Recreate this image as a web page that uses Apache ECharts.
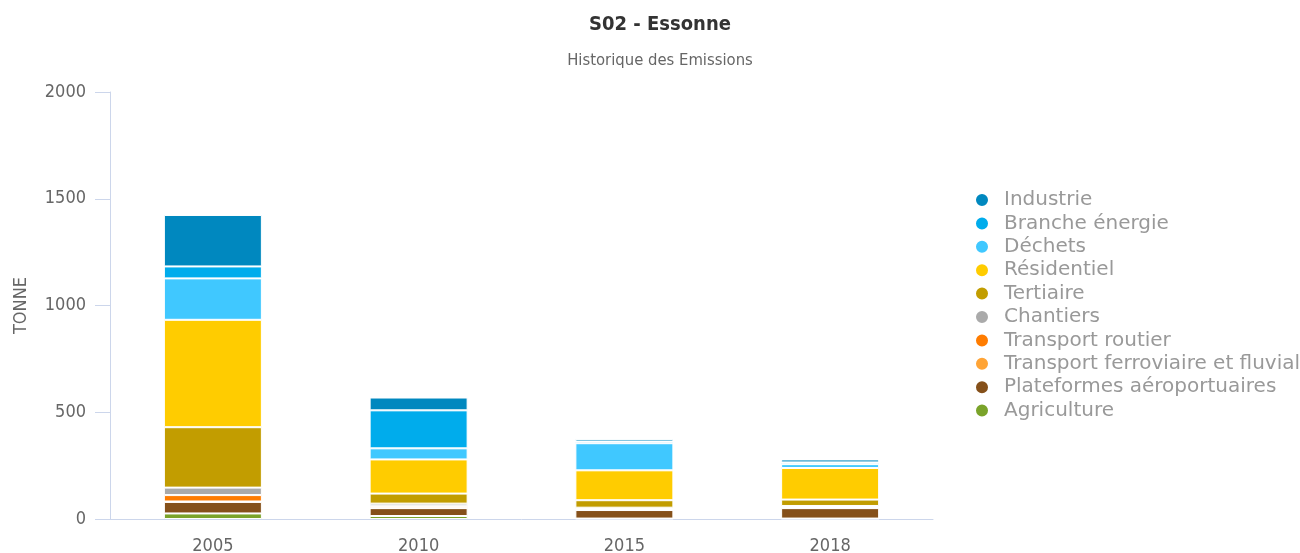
<!DOCTYPE html>
<html>
<head>
<meta charset="utf-8">
<title>SO2 - Essonne</title>
<script src="https://cdn.jsdelivr.net/npm/echarts@6/dist/echarts.min.js"></script>
<style>
  html, body { margin: 0; padding: 0; background: #fff; }
  #chart { width: 1300px; height: 553px; }
</style>
</head>
<body>
<div id="chart"></div>
<script>
// Emissions by sector, in tonnes
const categories = ['2005', '2010', '2015', '2018'];
const industrie = [241, 60, 12, 14];
const brancheEnergie = [56, 178, 8, 8];
const dechets = [194, 52, 127, 18];
const residentiel = [503, 160, 140, 148];
const tertiaire = [283, 47, 35, 30];
const chantiers = [35, 12, 6, 5];
const transportRoutier = [30, 8, 4, 4];
const transportFerroviaire = [2, 1, 1, 1];
const plateformes = [54, 37, 40, 49];
const agriculture = [26, 14, 2, 2];

const yTicks = [0, 500, 1000, 1500, 2000];

const narrow = "'DejaVu Sans Condensed', 'Liberation Sans Narrow', sans-serif";

// stacked bottom to top
const sectors = [
  { name: 'Agriculture', data: agriculture, color: '#7aa32a' },
  { name: 'Plateformes aéroportuaires', data: plateformes, color: '#85501a' },
  { name: 'Transport ferroviaire et fluvial', data: transportFerroviaire, color: '#ffa436' },
  { name: 'Transport routier', data: transportRoutier, color: '#ff7c00' },
  { name: 'Chantiers', data: chantiers, color: '#aaaaaa' },
  { name: 'Tertiaire', data: tertiaire, color: '#c29d00' },
  { name: 'Résidentiel', data: residentiel, color: '#ffcc00' },
  { name: 'Déchets', data: dechets, color: '#40c8ff' },
  { name: 'Branche énergie', data: brancheEnergie, color: '#00acec' },
  { name: 'Industrie', data: industrie, color: '#0088bf' }
];

const chart = echarts.init(document.getElementById('chart'), null, { renderer: 'canvas' });

chart.setOption({
  animation: false,
  backgroundColor: '#ffffff',
  title: {
    text: 'S02 - Essonne',
    subtext: 'Historique des Emissions',
    left: 655,
    textAlign: 'center',
    top: 10,
    itemGap: 17,
    textStyle: { fontFamily: narrow, fontSize: 20, fontWeight: 'bold', color: '#333333' },
    subtextStyle: { fontFamily: narrow, fontSize: 16.5, color: '#666666' }
  },
  legend: {
    orient: 'vertical',
    left: 974,
    top: 190,
    padding: 0,
    icon: 'circle',
    itemWidth: 14,
    itemHeight: 14,
    itemGap: 3.4,
    selectedMode: false,
    data: sectors.map(s => s.name).reverse(),
    textStyle: {
      fontFamily: "'DejaVu Sans', Verdana, sans-serif",
      fontSize: 20,
      lineHeight: 20,
      color: '#999999',
      padding: [0, 0, 0, 10]
    }
  },
  grid: {
    left: 110, right: 367, top: 92, bottom: 34,
    containLabel: false,
    outerBoundsMode: 'none'
  },
  xAxis: {
    type: 'category',
    data: categories,
    axisLine: { show: true, lineStyle: { color: '#ccd6eb', width: 1 } },
    axisTick: { show: false },
    axisLabel: { fontFamily: narrow, fontSize: 18, color: '#666666', margin: 18 }
  },
  yAxis: {
    type: 'value',
    min: yTicks[0],
    max: yTicks[yTicks.length - 1],
    interval: 500,
    name: 'TONNE',
    nameLocation: 'middle',
    nameGap: 80,
    nameTextStyle: { fontFamily: narrow, fontSize: 18, color: '#666666' },
    axisLine: { show: true, lineStyle: { color: '#ccd6eb', width: 1 } },
    axisTick: { show: true, length: 15, lineStyle: { color: '#ccd6eb' } },
    splitLine: { show: false },
    axisLabel: {
      fontFamily: narrow, fontSize: 18, color: '#666666', margin: 24,
      formatter: v => String(v)
    }
  },
  series: sectors.map(s => ({
    name: s.name,
    type: 'bar',
    stack: 'total',
    barWidth: 98,
    data: s.data,
    itemStyle: { color: s.color, borderColor: '#ffffff', borderWidth: 1 }
  }))
});
</script>
</body>
</html>
